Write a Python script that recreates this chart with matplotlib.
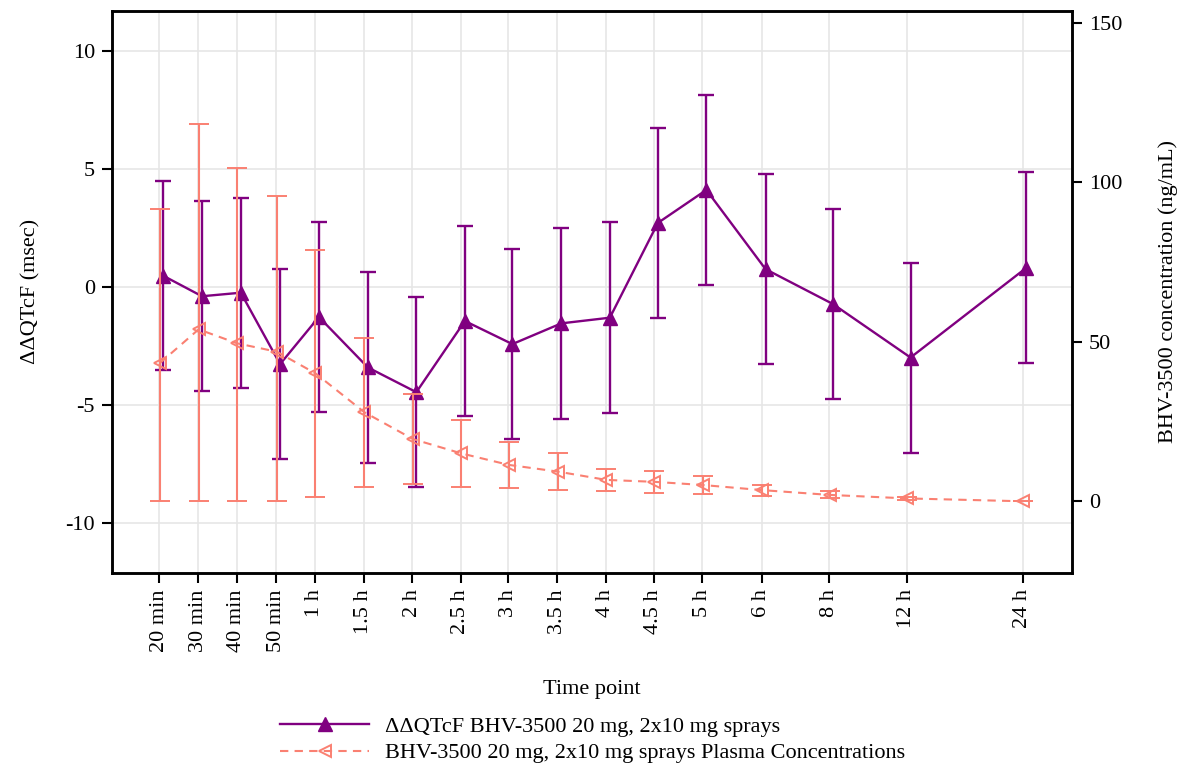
import matplotlib
matplotlib.use('Agg')
import matplotlib.pyplot as plt
import numpy as np
from matplotlib.lines import Line2D

plt.rcParams['font.family'] = ['Liberation Serif', 'DejaVu Serif']
plt.rcParams['font.size'] = 16
plt.rcParams['axes.unicode_minus'] = False

# time points and where each one sits on the (non-uniform) x axis
timepoints = ['20 min', '30 min', '40 min', '50 min', '1 h', '1.5 h', '2 h', '2.5 h', '3 h',
              '3.5 h', '4 h', '4.5 h', '5 h', '6 h', '8 h', '12 h', '24 h']
xpos = [0.0, 0.8, 1.6, 2.41, 3.21, 4.22, 5.22, 6.22, 7.2, 8.21, 9.21, 10.2, 11.2,
        12.42, 13.81, 15.41, 17.8]

# ddQTcF mean and 90% CI half width (msec)
qtcf_mean = [0.47, -0.40, -0.25, -3.28, -1.28, -3.42, -4.47, -1.45, -2.43, -1.55, -1.31,
             2.71, 4.11, 0.75, -0.73, -3.00, 0.81]
qtcf_ci = [4.02, 4.03, 4.03, 4.03, 4.05, 4.05, 4.03, 4.03, 4.03, 4.04, 4.05,
           4.03, 4.04, 4.03, 4.03, 4.03, 4.06]

# plasma concentration mean and SD (ng/mL)
conc_mean = [43.3, 53.9, 49.5, 46.9, 40.1, 27.9, 19.5, 15.0, 11.4, 9.3, 6.7, 6.1, 5.1,
             3.5, 2.0, 0.9, 0.0]
conc_sd = [48.3, 64.4, 54.9, 48.9, 38.7, 23.3, 14.2, 10.4, 7.3, 5.9, 3.4, 3.5, 2.85,
           1.7, 1.1, 0.5, 0.2]

PURPLE = '#800080'
SALMON = '#fa8072'

x = np.array(xpos)
cm = np.array(conc_mean)
csd = np.array(conc_sd)
lower = cm - np.clip(cm - csd, 0, None)   # bars stop at zero

fig = plt.figure(figsize=(11.8, 7.66), dpi=100)
ax = fig.add_axes([0.0947, 0.2523, 0.8138, 0.7333])
ax2 = ax.twinx()

ax.errorbar(x + 0.08, qtcf_mean, yerr=qtcf_ci, color=PURPLE, marker='^', ms=9.5,
            lw=1.7, elinewidth=1.7, capsize=6, capthick=1.7)
ax2.errorbar(x + 0.01, conc_mean, yerr=[lower, csd], color=SALMON, ecolor=SALMON,
             marker='<', ms=8, mfc='none', mec=SALMON, mew=1.4, ls=(0, (4, 3)),
             lw=1.5, elinewidth=1.5, capsize=7, capthick=1.5)

ax.set_xlim(-0.981, 18.82)
ax.set_ylim(-12.13, 11.7)
ax2.set_ylim(-22.4, 153.7)
ax.set_xticks(x)
ax.set_xticklabels(timepoints, rotation=90)
ax.set_yticks([-10, -5, 0, 5, 10])
ax2.set_yticks([0, 50, 100, 150])

ax.grid(True, color='#e6e6e6', lw=1.2)
ax.set_axisbelow(True)

for a in (ax, ax2):
    for s in a.spines.values():
        s.set_linewidth(1.8)
    a.tick_params(direction='out', length=7, width=1.5, pad=5)

ax.set_xlabel('Time point', labelpad=20)
ax.set_ylabel('\u0394\u0394QTcF (msec)', labelpad=18)
ax2.set_ylabel('BHV-3500 concentration (ng/mL)', labelpad=26)

handles = [Line2D([], [], color=PURPLE, marker='^', ms=9.5, lw=1.7),
           Line2D([], [], color=SALMON, marker='<', ms=8, mfc='none', mew=1.4,
                  ls=(0, (4, 3)), lw=1.5)]
labels = ['\u0394\u0394QTcF BHV-3500 20 mg, 2x10 mg sprays',
          'BHV-3500 20 mg, 2x10 mg sprays Plasma Concentrations']
fig.legend(handles, labels, loc='center', bbox_to_anchor=(0.502, 0.034), frameon=False,
           handlelength=4, handletextpad=0.7, labelspacing=0.25)

fig.savefig('out.png', dpi=100)
